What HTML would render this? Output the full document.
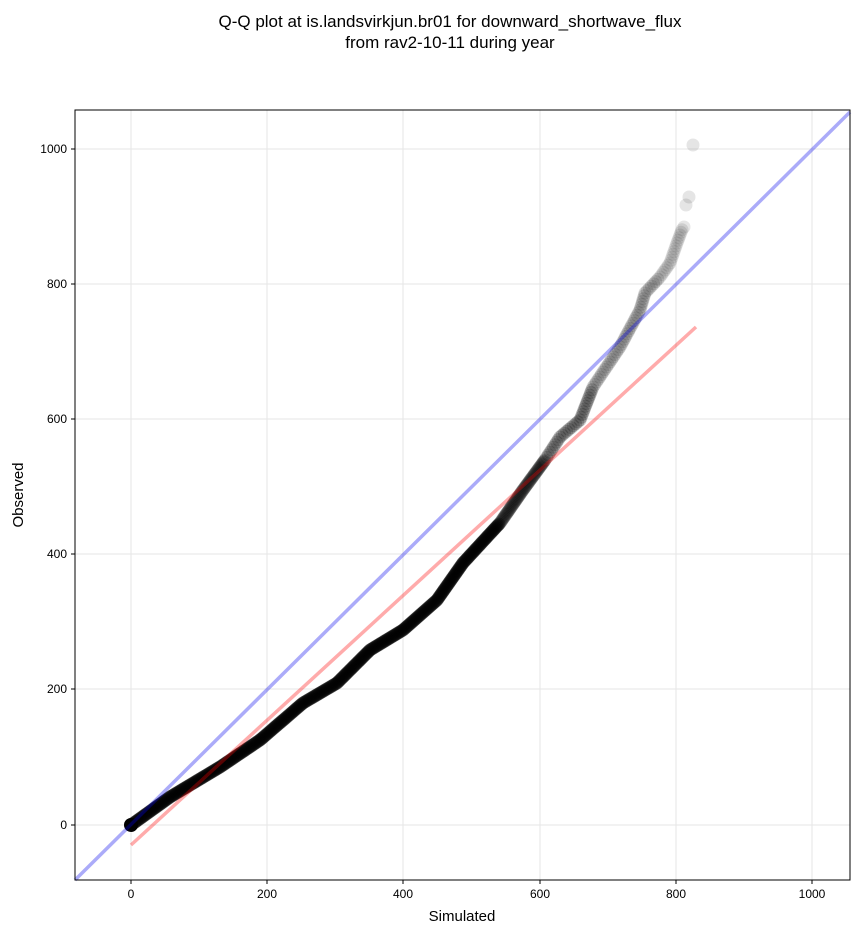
<!DOCTYPE html>
<html><head><meta charset="utf-8"><style>
body{margin:0;background:#fff;}
svg text{font-family:"Liberation Sans",sans-serif;}
</style></head><body>
<svg id="s" width="860" height="934" xmlns="http://www.w3.org/2000/svg">
<rect width="860" height="934" fill="#fff"/>
<text x="450" y="27" font-size="17" text-anchor="middle">Q-Q plot at is.landsvirkjun.br01 for downward_shortwave_flux</text>
<text x="450" y="48" font-size="17" text-anchor="middle">from rav2-10-11 during year</text>
<g stroke="#e6e6e6" stroke-width="1">
<line x1="131" y1="110" x2="131" y2="880"/><line x1="267" y1="110" x2="267" y2="880"/>
<line x1="403" y1="110" x2="403" y2="880"/><line x1="540" y1="110" x2="540" y2="880"/>
<line x1="676" y1="110" x2="676" y2="880"/><line x1="812" y1="110" x2="812" y2="880"/>
<line x1="75" y1="825" x2="850" y2="825"/><line x1="75" y1="689" x2="850" y2="689"/>
<line x1="75" y1="554" x2="850" y2="554"/><line x1="75" y1="419" x2="850" y2="419"/>
<line x1="75" y1="284" x2="850" y2="284"/><line x1="75" y1="149" x2="850" y2="149"/>
</g>
<g id="pts"></g>
<line x1="75" y1="880" x2="850" y2="112" stroke="#0000ee" stroke-opacity="0.33" stroke-width="3.5"/>
<line x1="131" y1="845" x2="696" y2="327" stroke="#ff0000" stroke-opacity="0.33" stroke-width="3.5"/>
<rect x="75" y="110" width="775" height="770" fill="none" stroke="#000" stroke-width="1"/>
<g font-size="12" text-anchor="middle">
<line x1="131" y1="880" x2="131" y2="884" stroke="#000"/><text x="131" y="898">0</text>
<line x1="267" y1="880" x2="267" y2="884" stroke="#000"/><text x="267" y="898">200</text>
<line x1="403" y1="880" x2="403" y2="884" stroke="#000"/><text x="403" y="898">400</text>
<line x1="540" y1="880" x2="540" y2="884" stroke="#000"/><text x="540" y="898">600</text>
<line x1="676" y1="880" x2="676" y2="884" stroke="#000"/><text x="676" y="898">800</text>
<line x1="812" y1="880" x2="812" y2="884" stroke="#000"/><text x="812" y="898">1000</text>
</g>
<g font-size="12" text-anchor="end">
<line x1="71" y1="825" x2="75" y2="825" stroke="#000"/><text x="67" y="829">0</text>
<line x1="71" y1="689" x2="75" y2="689" stroke="#000"/><text x="67" y="693">200</text>
<line x1="71" y1="554" x2="75" y2="554" stroke="#000"/><text x="67" y="558">400</text>
<line x1="71" y1="419" x2="75" y2="419" stroke="#000"/><text x="67" y="423">600</text>
<line x1="71" y1="284" x2="75" y2="284" stroke="#000"/><text x="67" y="288">800</text>
<line x1="71" y1="149" x2="75" y2="149" stroke="#000"/><text x="67" y="153">1000</text>
</g>
<text x="462" y="921" font-size="15" text-anchor="middle">Simulated</text>
<text x="23" y="495" font-size="15" text-anchor="middle" transform="rotate(-90 23 495)">Observed</text>
</svg>
<script>
var P=[[131,825],[170,797],[220,767],[260,740],[303,703],[337,683],[370,650],[403,630],[437,600],[463,563],[487,537],[500,523],[523,490],[545,460],[560,437],[580,420],[593,387],[620,347],[640,310],[645,293],[660,277],[670,263],[677,243],[683,227]];
var g=document.getElementById('pts'),h='';
for(var i=0;i<P.length-1;i++){var a=P[i],b=P[i+1];var d=Math.hypot(b[0]-a[0],b[1]-a[1]);var n=Math.max(2,Math.round(d/(i<13?1.5:3)));
var op=i<11?0.4:(i<16?0.22:(i<20?0.15:0.1));
for(var k=0;k<n;k++){var t=k/n;h+='<circle cx="'+(a[0]+(b[0]-a[0])*t).toFixed(1)+'" cy="'+(a[1]+(b[1]-a[1])*t).toFixed(1)+'" r="6.5" fill="#000" fill-opacity="'+op+'"/>';}}
h+='<circle cx="131" cy="825" r="7" fill="#000"/>';
h+='<circle cx="684" cy="227" r="6.5" fill="#000" fill-opacity="0.1"/><circle cx="686" cy="205" r="6.5" fill="#000" fill-opacity="0.1"/><circle cx="689" cy="197" r="6.5" fill="#000" fill-opacity="0.1"/><circle cx="693" cy="145" r="6.5" fill="#000" fill-opacity="0.1"/>';
g.innerHTML=h;
</script>
</body></html>
